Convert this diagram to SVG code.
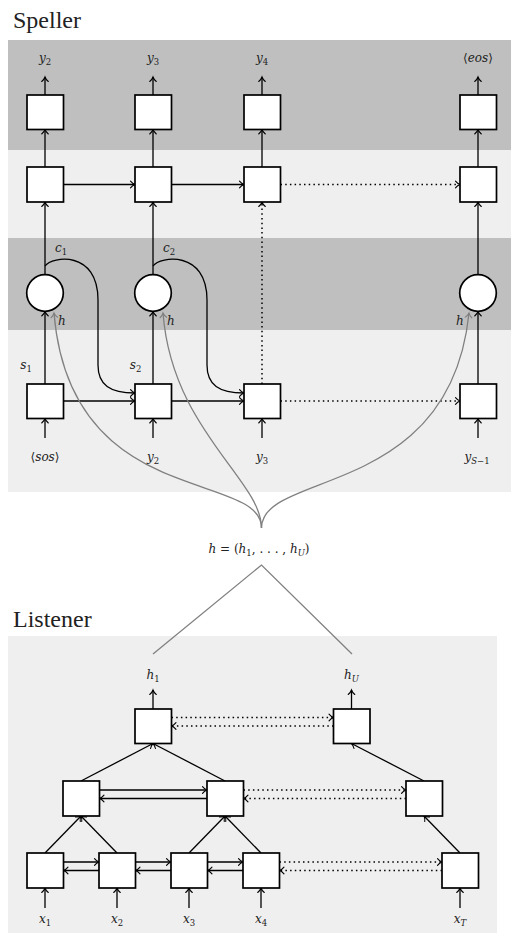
<svg xmlns="http://www.w3.org/2000/svg" width="511" height="938" viewBox="0 0 511 938">
<defs>
<style>
.box{fill:#fff;stroke:#000;stroke-width:1.7}
.a{fill:none;stroke:#000;stroke-width:1.3;marker-end:url(#ah)}
.d{fill:none;stroke:#000;stroke-width:1.5;stroke-dasharray:1.5 3.2;marker-end:url(#ah)}
.g{fill:none;stroke:#808080;stroke-width:1.3;marker-end:url(#ahg)}
.gl{fill:none;stroke:#808080;stroke-width:1.3}
.m{font-style:italic;font-size:12px;fill:#222;text-anchor:middle}
.ms{text-anchor:start}
.u{font-style:normal}
.t{font-size:24px;fill:#222}
</style>
<marker id="ah" markerUnits="userSpaceOnUse" viewBox="-6 -5 8 10" refX="0" refY="0" markerWidth="8" markerHeight="10" orient="auto" overflow="visible">
<path d="M-4.5,-3.3 C-3,-1.5 -1.2,-0.4 0,0 C-1.2,0.4 -3,1.5 -4.5,3.3" fill="none" stroke="#000" stroke-width="1.1" stroke-linecap="round"/>
</marker>
<marker id="ahg" markerUnits="userSpaceOnUse" viewBox="-6 -5 8 10" refX="0" refY="0" markerWidth="8" markerHeight="10" orient="auto" overflow="visible">
<path d="M-4.5,-3.3 C-3,-1.5 -1.2,-0.4 0,0 C-1.2,0.4 -3,1.5 -4.5,3.3" fill="none" stroke="#808080" stroke-width="1.1" stroke-linecap="round"/>
</marker>
</defs>

<g id="backgrounds">
<rect x="8" y="40" width="503" height="110" fill="#bfbfbf"/>
<rect x="8" y="150" width="503" height="88" fill="#efefef"/>
<rect x="8" y="238" width="503" height="92" fill="#bfbfbf"/>
<rect x="8" y="330" width="503" height="162" fill="#efefef"/>
<rect x="8" y="636" width="489" height="297" fill="#efefef"/>
</g>

<g id="titles" font-family="Liberation Serif, DejaVu Serif, serif">
<text class="t" x="13" y="28">Speller</text>
<text class="t" x="13" y="627">Listener</text>
</g>

<g id="connectors">
<path class="a" d="M45,95 V77"/>
<path class="a" d="M153,95 V77"/>
<path class="a" d="M262,95 V77"/>
<path class="a" d="M478,95 V77"/>
<path class="a" d="M45,167 V129.5"/>
<path class="a" d="M153,167 V129.5"/>
<path class="a" d="M262,167 V129.5"/>
<path class="a" d="M478,167 V129.5"/>
<path class="a" d="M45,275 V202"/>
<path class="a" d="M153,275 V202"/>
<path class="a" d="M478,275 V202"/>
<path class="d" d="M262,384 V202"/>
<path class="a" d="M45,384 V311.5"/>
<path class="a" d="M153,384 V311.5"/>
<path class="a" d="M478,384 V311.5"/>
<path class="a" d="M45,438 V418.5"/>
<path class="a" d="M153,438 V418.5"/>
<path class="a" d="M262,438 V418.5"/>
<path class="a" d="M478,438 V418.5"/>
<path class="a" d="M63.5,184.5 H135"/>
<path class="a" d="M171.5,184.5 H244"/>
<path class="d" d="M280.5,184.5 H460"/>
<path class="a" d="M63.5,401 H135"/>
<path class="a" d="M171.5,401 H244"/>
<path class="d" d="M280.5,401 H460"/>
<path class="a" d="M45,266 C52,256 98,250 98,300 L98,365 C98,385 110,393 135,393"/>
<path class="a" d="M153,266 C160,256 207,250 207,300 L207,365 C207,385 219,393 244,393"/>
<path class="g" d="M261.5,528 C261.5,470 70,510 54,313"/>
<path class="g" d="M261.5,528 C261.5,480 172,430 163,313"/>
<path class="g" d="M261.5,528 C261.5,470 450,500 469,313"/>
<path class="gl" d="M153,654 L261.5,565 L352,654"/>
<path class="a" d="M153,709 V690"/>
<path class="a" d="M351.5,709 V690"/>
<path class="a" d="M45,853 L81,816"/>
<path class="a" d="M117,853 L81,816"/>
<path class="a" d="M189,853 L225,816"/>
<path class="a" d="M261,853 L225,816"/>
<path class="a" d="M460,853 L424,816"/>
<path class="a" d="M81,781 L153,743.5"/>
<path class="a" d="M225,781 L153,743.5"/>
<path class="a" d="M424,781 L351.5,743.5"/>
<path class="a" d="M45,908 V888"/>
<path class="a" d="M117,908 V888"/>
<path class="a" d="M189,908 V888"/>
<path class="a" d="M261,908 V888"/>
<path class="a" d="M460,908 V888"/>
<path class="a" d="M63.5,862 H99"/>
<path class="a" d="M135.5,862 H171"/>
<path class="a" d="M207.5,862 H243"/>
<path class="d" d="M279.5,862 H442"/>
<path class="a" d="M99,870.5 H63.5"/>
<path class="a" d="M171,870.5 H135.5"/>
<path class="a" d="M243,870.5 H207.5"/>
<path class="d" d="M442,870.5 H279.5"/>
<path class="a" d="M99.5,790 H207"/>
<path class="d" d="M243.5,790 H406"/>
<path class="a" d="M207,798.5 H99.5"/>
<path class="d" d="M406,798.5 H243.5"/>
<path class="d" d="M171.5,717.5 H333.5"/>
<path class="d" d="M333.5,726 H171.5"/>
</g>

<g id="sp-out-1"><rect class="box" x="27" y="95" width="36.5" height="34.5"/></g>
<g id="sp-out-2"><rect class="box" x="135" y="95" width="36.5" height="34.5"/></g>
<g id="sp-out-3"><rect class="box" x="244" y="95" width="36.5" height="34.5"/></g>
<g id="sp-out-4"><rect class="box" x="460" y="95" width="36.5" height="34.5"/></g>
<g id="sp-rnn2-1"><rect class="box" x="27" y="167" width="36.5" height="35"/></g>
<g id="sp-rnn2-2"><rect class="box" x="135" y="167" width="36.5" height="35"/></g>
<g id="sp-rnn2-3"><rect class="box" x="244" y="167" width="36.5" height="35"/></g>
<g id="sp-rnn2-4"><rect class="box" x="460" y="167" width="36.5" height="35"/></g>
<g id="sp-att-1"><circle class="box" cx="45" cy="293" r="18.3"/></g>
<g id="sp-att-2"><circle class="box" cx="153" cy="293" r="18.3"/></g>
<g id="sp-att-4"><circle class="box" cx="478" cy="293" r="18.3"/></g>
<g id="sp-rnn1-1"><rect class="box" x="27" y="384" width="36.5" height="34.5"/></g>
<g id="sp-rnn1-2"><rect class="box" x="135" y="384" width="36.5" height="34.5"/></g>
<g id="sp-rnn1-3"><rect class="box" x="244" y="384" width="36.5" height="34.5"/></g>
<g id="sp-rnn1-4"><rect class="box" x="460" y="384" width="36.5" height="34.5"/></g>

<g id="ls-top-1"><rect class="box" x="135" y="709" width="36.5" height="34.5"/></g>
<g id="ls-top-2"><rect class="box" x="333.5" y="709" width="36.5" height="34.5"/></g>
<g id="ls-mid-1"><rect class="box" x="63" y="781" width="36.5" height="35"/></g>
<g id="ls-mid-2"><rect class="box" x="207" y="781" width="36.5" height="35"/></g>
<g id="ls-mid-3"><rect class="box" x="406" y="781" width="36.5" height="35"/></g>
<g id="ls-bot-1"><rect class="box" x="27" y="853" width="36.5" height="35"/></g>
<g id="ls-bot-2"><rect class="box" x="99" y="853" width="36.5" height="35"/></g>
<g id="ls-bot-3"><rect class="box" x="171" y="853" width="36.5" height="35"/></g>
<g id="ls-bot-4"><rect class="box" x="243" y="853" width="36.5" height="35"/></g>
<g id="ls-bot-5"><rect class="box" x="442" y="853" width="36.5" height="35"/></g>

<g id="labels" font-family="DejaVu Serif, Liberation Serif, serif">
<text class="m" x="45" y="62">y<tspan class="u" font-size="8.5" dy="3">2</tspan></text>
<text class="m" x="153" y="62">y<tspan class="u" font-size="8.5" dy="3">3</tspan></text>
<text class="m" x="262" y="62">y<tspan class="u" font-size="8.5" dy="3">4</tspan></text>
<text class="m" x="478" y="62"><tspan class="u">⟨</tspan>eos<tspan class="u">⟩</tspan></text>
<text class="m" x="61" y="252">c<tspan class="u" font-size="8.5" dy="3">1</tspan></text>
<text class="m" x="169" y="252">c<tspan class="u" font-size="8.5" dy="3">2</tspan></text>
<text class="m ms" x="58" y="325">h</text>
<text class="m ms" x="167" y="325">h</text>
<text class="m ms" x="456" y="325">h</text>
<text class="m" x="26" y="369">s<tspan class="u" font-size="8.5" dy="3">1</tspan></text>
<text class="m" x="135.5" y="369">s<tspan class="u" font-size="8.5" dy="3">2</tspan></text>
<text class="m" x="45" y="461"><tspan class="u">⟨</tspan>sos<tspan class="u">⟩</tspan></text>
<text class="m" x="153" y="461">y<tspan class="u" font-size="8.5" dy="3">2</tspan></text>
<text class="m" x="262" y="461">y<tspan class="u" font-size="8.5" dy="3">3</tspan></text>
<text class="m" x="477" y="461">y<tspan font-size="8.5" dy="3">S</tspan><tspan class="u" font-size="8.5">−1</tspan></text>
<text class="m" x="259" y="553">h<tspan class="u"> = (</tspan>h<tspan class="u" font-size="8.5" dy="3">1</tspan><tspan class="u" dy="-3">, . . . , </tspan>h<tspan font-size="8.5" dy="3">U</tspan><tspan class="u" dy="-3">)</tspan></text>
<text class="m" x="153" y="679">h<tspan class="u" font-size="8.5" dy="3">1</tspan></text>
<text class="m" x="351.5" y="679">h<tspan font-size="8.5" dy="3">U</tspan></text>
<text class="m" x="45" y="923">x<tspan class="u" font-size="8.5" dy="3">1</tspan></text>
<text class="m" x="117" y="923">x<tspan class="u" font-size="8.5" dy="3">2</tspan></text>
<text class="m" x="189" y="923">x<tspan class="u" font-size="8.5" dy="3">3</tspan></text>
<text class="m" x="261" y="923">x<tspan class="u" font-size="8.5" dy="3">4</tspan></text>
<text class="m" x="460" y="923">x<tspan font-size="8.5" dy="3">T</tspan></text>
</g>
</svg>
